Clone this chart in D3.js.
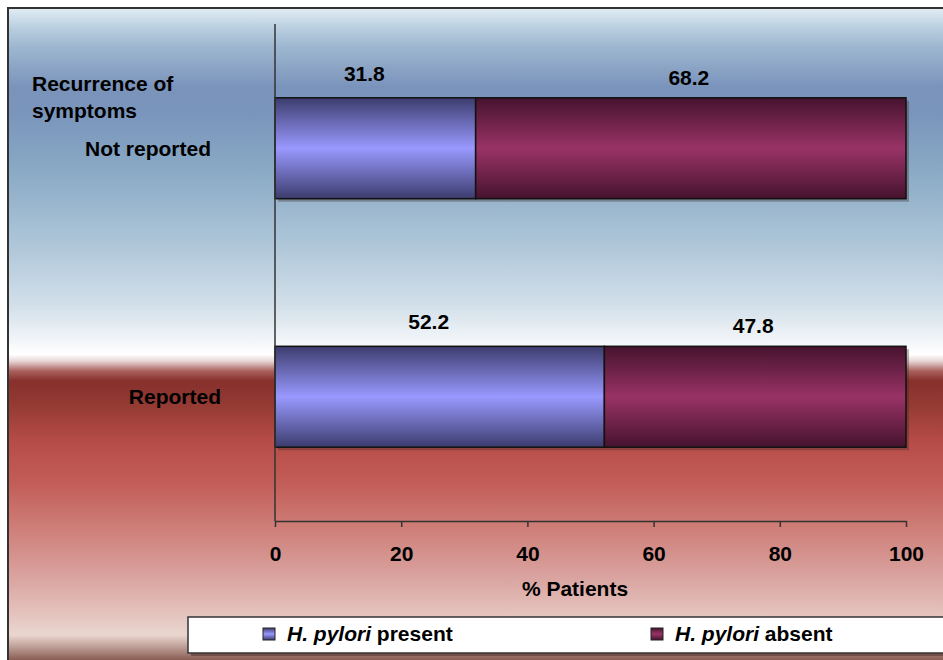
<!DOCTYPE html>
<html>
<head>
<meta charset="utf-8">
<script src="https://cdn.jsdelivr.net/npm/d3@7"></script>
<style>
  html, body { margin: 0; padding: 0; background: #fff; }
  svg { display: block; font-family: "Liberation Sans", Arial, sans-serif; }
</style>
</head>
<body>
<svg id="chart" width="943" height="660"></svg>
<script>
// Recurrence of symptoms vs. H. pylori status (% of patients)
const categories = ["Not reported", "Reported"];
const seriesNames = ["present", "absent"];
const presentValues = [31.8, 52.2];
const absentValues = [68.2, 47.8];
const xTicks = [0, 20, 40, 60, 80, 100];
const seriesColors = { present: "#9999ff", absent: "#993366" };
const seriesEdges = { present: "#3c3c6e", absent: "#46132e" };

const svg = d3.select("#chart");
const W = 943, H = 660;
const FS = 21;
const defs = svg.append("defs");

// Page background: steel blue fading to white, then deep red fading to blush
const bg = defs.append("linearGradient").attr("id", "bg")
  .attr("x1", 0).attr("y1", 0).attr("x2", 0).attr("y2", 1);
[
  [0.000, "#e2edf5"], [0.030, "#b9cfe0"], [0.060, "#9db6cf"],
  [0.120, "#7a93bb"], [0.160, "#7a95bc"], [0.240, "#88a8c4"],
  [0.350, "#abc4d7"], [0.450, "#d2dfe9"], [0.505, "#f3f6f9"],
  [0.525, "#ffffff"], [0.535, "#e8d6d6"], [0.550, "#a9625e"],
  [0.565, "#87302c"], [0.600, "#933a33"], [0.660, "#b84d48"],
  [0.720, "#c25d58"], [0.790, "#cf7f79"], [0.860, "#d9a29e"],
  [0.920, "#e5c4bf"], [0.950, "#ead7d0"], [0.970, "#b89890"],
  [1.000, "#693428"]
].forEach(([o, c]) => bg.append("stop").attr("offset", o).attr("stop-color", c));

svg.append("rect").attr("x", 0).attr("y", 0).attr("width", W).attr("height", H).attr("fill", "#fff");
svg.append("rect").attr("x", 8).attr("y", 8).attr("width", W).attr("height", H)
  .attr("fill", "url(#bg)").attr("stroke", "#333").attr("stroke-width", 2);

// Bar shading: dark at the top and bottom edges, bright in the middle
seriesNames.forEach(s => {
  const g = defs.append("linearGradient").attr("id", "grad-" + s)
    .attr("x1", 0).attr("y1", 0).attr("x2", 0).attr("y2", 1);
  g.append("stop").attr("offset", 0).attr("stop-color", seriesEdges[s]);
  g.append("stop").attr("offset", 0.5).attr("stop-color", seriesColors[s]);
  g.append("stop").attr("offset", 1).attr("stop-color", seriesEdges[s]);
});

const plot = { left: 275, right: 906, top: 24, bottom: 521 };

const x = d3.scaleLinear().domain([0, 100]).range([plot.left, plot.right]);
const y = d3.scaleBand().domain(categories)
  .range([plot.top, plot.bottom]).paddingInner(0.594).paddingOuter(0.297);

const rows = categories.map((c, i) => ({ category: c, present: presentValues[i], absent: absentValues[i] }));
const stacked = d3.stack().keys(seriesNames)(rows);

// Drop shadows behind the bars
svg.append("g").selectAll("rect").data(rows).join("rect")
  .attr("x", x(0) + 3)
  .attr("y", d => y(d.category) + 3)
  .attr("width", d => x(d.present + d.absent) - x(0))
  .attr("height", y.bandwidth())
  .attr("fill", "rgba(60,40,40,0.35)");

const layers = svg.append("g").selectAll("g").data(stacked).join("g")
  .attr("fill", d => "url(#grad-" + d.key + ")");

layers.selectAll("rect").data(d => d).join("rect")
  .attr("x", d => x(d[0]))
  .attr("y", d => y(d.data.category))
  .attr("width", d => x(d[1]) - x(d[0]))
  .attr("height", y.bandwidth())
  .attr("stroke", "#111").attr("stroke-width", 1.5);

// Value labels above each segment
const labels = svg.append("g").attr("font-weight", "bold").attr("font-size", FS)
  .attr("text-anchor", "middle").attr("fill", "#000");
stacked.forEach((layer, li) => {
  layer.forEach(d => {
    labels.append("text")
      .attr("x", (x(d[0]) + x(d[1])) / 2 + (li === 0 ? -11 : -2))
      .attr("y", y(d.data.category) - (li === 0 ? 17 : 13))
      .text(d3.format(".1f")(d[1] - d[0]));
  });
});

// Axes
const axisColor = "#333";
svg.append("line").attr("x1", plot.left).attr("x2", plot.left)
  .attr("y1", plot.top).attr("y2", plot.bottom)
  .attr("stroke", axisColor).attr("stroke-width", 1.5);

const xAxis = svg.append("g").attr("transform", `translate(0,${plot.bottom})`)
  .call(d3.axisBottom(x).tickValues(xTicks).tickSize(6).tickSizeOuter(0).tickPadding(19));
xAxis.select(".domain").attr("stroke", axisColor).attr("stroke-width", 1.5);
xAxis.selectAll(".tick line").attr("stroke", axisColor).attr("stroke-width", 1.5);
xAxis.selectAll(".tick text").attr("font-family", "Liberation Sans, Arial, sans-serif")
  .attr("font-size", FS).attr("font-weight", "bold").attr("fill", "#000");

svg.append("text").attr("x", 575).attr("y", 596)
  .attr("text-anchor", "middle").attr("font-size", FS).attr("font-weight", "bold")
  .text("% Patients");

// Category labels
const catLabels = svg.append("g").attr("font-size", FS).attr("font-weight", "bold")
  .attr("text-anchor", "end");
categories.forEach((c, i) => {
  catLabels.append("text")
    .attr("x", plot.left - (i === 0 ? 64 : 54))
    .attr("y", y(c) + y.bandwidth() / 2)
    .attr("dy", "0.36em")
    .text(c);
});

const axisTitle = svg.append("text").attr("font-size", FS).attr("font-weight", "bold")
  .attr("x", 32).attr("y", 91);
axisTitle.append("tspan").attr("x", 32).text("Recurrence of");
axisTitle.append("tspan").attr("x", 32).attr("dy", 27).text("symptoms");

// Legend
const legend = svg.append("g");
legend.append("rect").attr("x", 191).attr("y", 620).attr("width", 800).attr("height", 36)
  .attr("fill", "rgba(60,30,30,0.45)");
legend.append("rect").attr("x", 188).attr("y", 617).attr("width", 800).attr("height", 36)
  .attr("fill", "#fff").attr("stroke", "#333").attr("stroke-width", 1.5);

const legendX = { present: 263, absent: 651 };
seriesNames.forEach(s => {
  legend.append("rect").attr("x", legendX[s]).attr("y", 628).attr("width", 12).attr("height", 12)
    .attr("fill", "url(#grad-" + s + ")").attr("stroke", "#222").attr("stroke-width", 1);
  const t = legend.append("text").attr("x", legendX[s] + 24).attr("y", 641)
    .attr("font-size", FS).attr("font-weight", "bold");
  t.append("tspan").attr("font-style", "italic").text("H. pylori");
  t.append("tspan").text(" " + s);
});
</script>
</body>
</html>
